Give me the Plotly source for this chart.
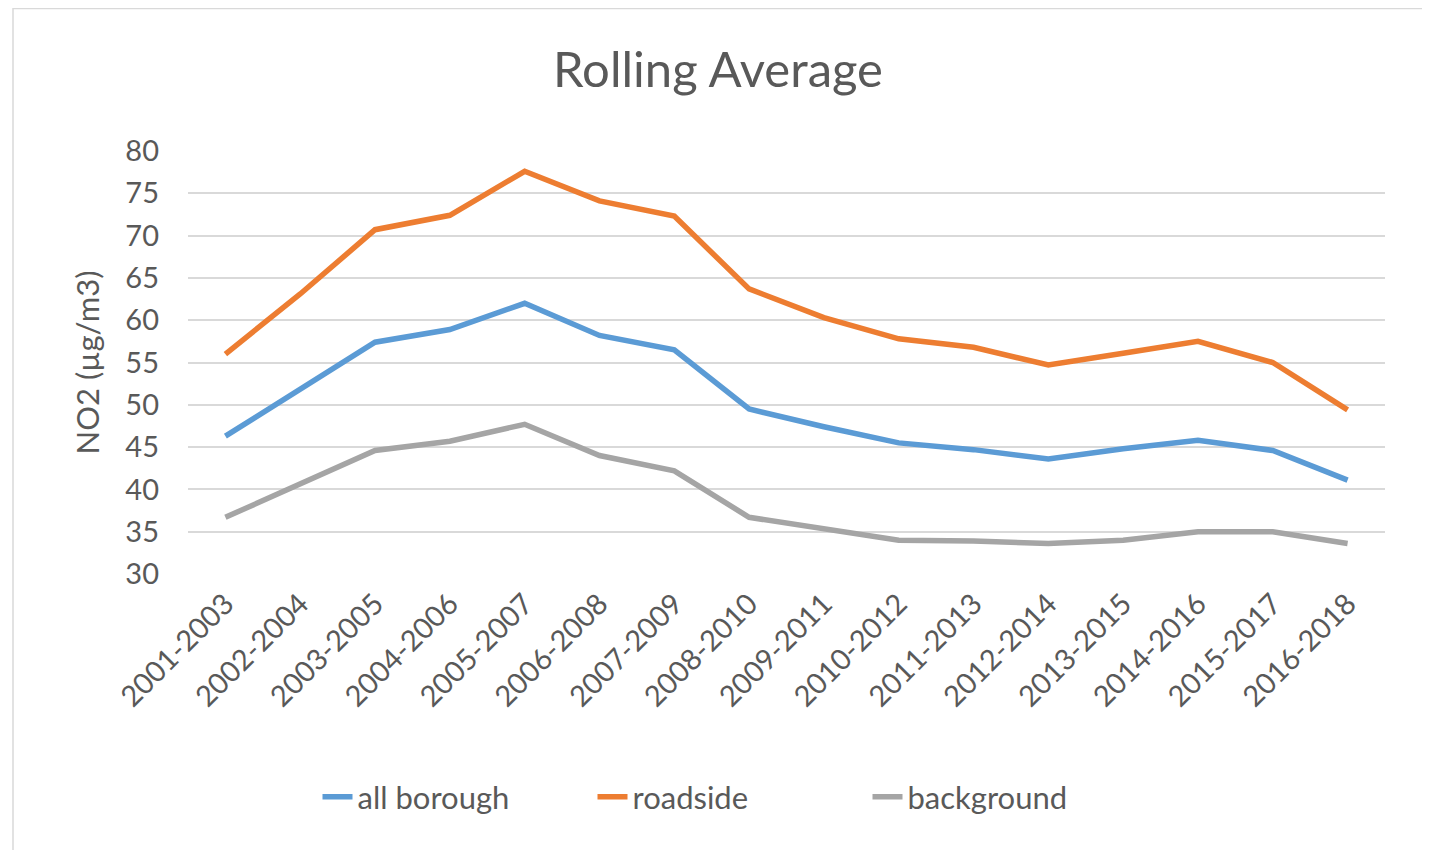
import plotly.graph_objects as go

categories = ["2001-2003", "2002-2004", "2003-2005", "2004-2006", "2005-2007", "2006-2008",
              "2007-2009", "2008-2010", "2009-2011", "2010-2012", "2011-2013", "2012-2014",
              "2013-2015", "2014-2016", "2015-2017", "2016-2018"]
all_borough = [46.3, 51.8, 57.4, 58.9, 62.0, 58.2, 56.5, 49.5, 47.4, 45.5, 44.7, 43.6, 44.8, 45.8, 44.6, 41.1]
roadside = [56.0, 63.1, 70.7, 72.4, 77.6, 74.1, 72.3, 63.7, 60.3, 57.8, 56.8, 54.7, 56.1, 57.5, 55.0, 49.4]
background = [36.7, 40.7, 44.6, 45.7, 47.7, 44.0, 42.2, 36.7, 35.4, 34.0, 33.9, 33.6, 34.0, 35.0, 35.0, 33.6]
y_ticks = [30, 35, 40, 45, 50, 55, 60, 65, 70, 75, 80]

FONT = "Lato"
TXT = "#595959"

fig = go.Figure()
for name, vals, col in [("all borough", all_borough, "#5B9BD5"),
                        ("roadside", roadside, "#ED7D31"),
                        ("background", background, "#A5A5A5")]:
    fig.add_trace(go.Scatter(x=categories, y=vals, mode="lines", name=name,
                             line=dict(color=col, width=5.5)))

# page has an 8px body margin; figure coordinates = page coordinates - 8
OFF = 8
W, H = 1430 - OFF, 850 - OFF
L, R, T = 188 - OFF, 45, 151 - OFF
B = H - (574 - OFF)
pw, ph = W - L - R, H - T - B

def px2paper_x(px):
    return (px - OFF - L) / pw

def px2paper_y(py):
    return (H - B - (py - OFF)) / ph

fig.update_layout(
    width=W, height=H,
    margin=dict(l=L, r=R, t=T, b=B, autoexpand=False),
    paper_bgcolor="white", plot_bgcolor="white",
    font=dict(family=FONT, color=TXT),
    title=dict(text="Rolling Average", x=px2paper_x(718), xref="paper", xanchor="center",
               y=1 - (70 - OFF) / H, yanchor="middle",
               font=dict(size=49, color=TXT, family=FONT)),
    xaxis=dict(type="category", range=[-0.5, 15.5], tickangle=-45,
               showgrid=False, showline=False, zeroline=False, ticks="",
               ticklabelstandoff=6,
               tickfont=dict(size=29, color=TXT, family=FONT)),
    yaxis=dict(range=[30, 80], tickvals=y_ticks, showgrid=True,
               gridcolor="#D9D9D9", gridwidth=1.5, zeroline=False, showline=False,
               ticks="", ticklabelstandoff=28,
               tickfont=dict(size=29, color=TXT, family=FONT),
               title=dict(text="NO2 (µg/m3)", standoff=16,
                          font=dict(size=31, color=TXT, family=FONT))),
    legend=dict(orientation="h", x=px2paper_x(730), xanchor="center", xref="paper",
                y=px2paper_y(797), yanchor="middle", entrywidth=230, entrywidthmode="pixels",
                font=dict(size=31, color=TXT, family=FONT)),
    showlegend=True,
    shapes=[dict(type="rect", xref="paper", yref="paper",
                 x0=px2paper_x(13), x1=px2paper_x(1425),
                 y0=px2paper_y(852), y1=px2paper_y(8.5),
                 line=dict(color="#D9D9D9", width=1.5), fillcolor="rgba(0,0,0,0)",
                 layer="below")],
)

fig.write_html("out.html")
